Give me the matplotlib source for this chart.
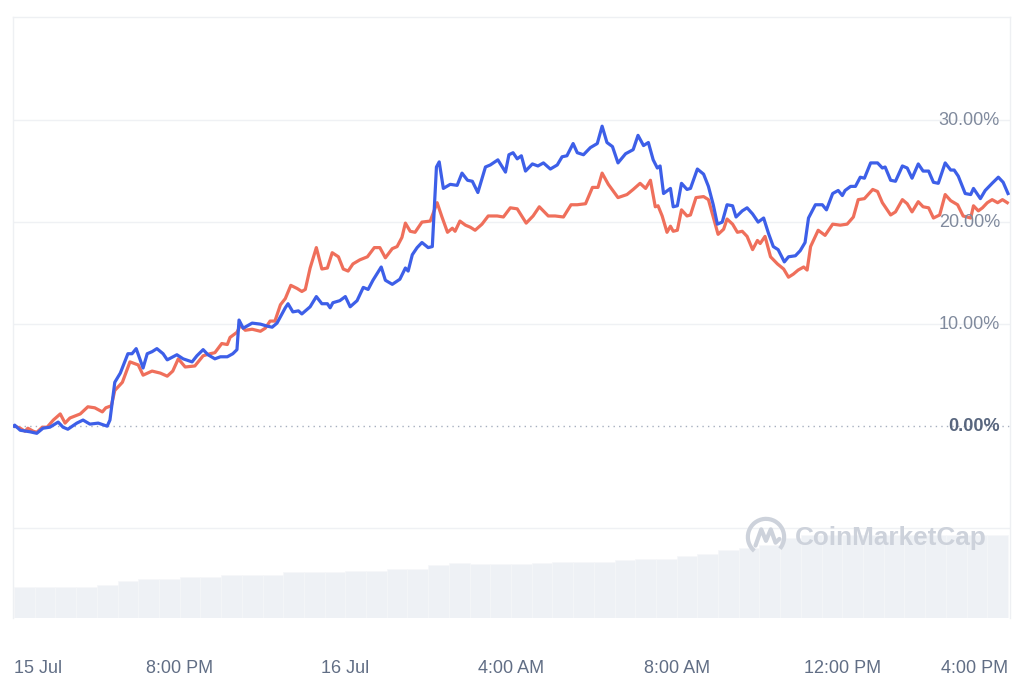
import numpy as np
import matplotlib
matplotlib.use('Agg')
import matplotlib.pyplot as plt
from matplotlib.patches import Arc
from matplotlib.transforms import blended_transform_factory

# minutes after 15 Jul 4:00 PM, % change
blue_min = [0, 1, 9, 23, 33, 42, 52, 64, 71, 78, 91, 100, 110, 122, 135, 139, 146, 154, 165, 171, 177,
            187, 193, 200, 207, 216, 222, 236, 245, 258, 265, 274, 281, 291, 299, 309, 317, 323, 326,
            332, 345, 357, 367, 374, 381, 393, 397, 404, 412, 417, 429, 438, 446, 454, 458, 462, 472,
            480, 487, 497, 506, 513, 520, 532, 538, 548, 559, 567, 571, 577, 584, 591, 600, 606, 612,
            616, 622, 632, 642, 649, 657, 664, 672, 683, 690, 701, 712, 717, 723, 729, 735, 741, 751,
            759, 767, 777, 787, 794, 801, 810, 816, 825, 835, 845, 852, 859, 867, 875, 886, 897, 904,
            912, 919, 926, 932, 936, 941, 951, 955, 961, 967, 975, 980, 990, 999, 1006, 1013, 1019,
            1026, 1033, 1041, 1046, 1055, 1062, 1070, 1078, 1086, 1093, 1100, 1107, 1116, 1122, 1132,
            1139, 1146, 1151, 1161, 1171, 1177, 1186, 1194, 1200, 1204, 1212, 1219, 1226, 1232, 1241,
            1251, 1258, 1262, 1270, 1277, 1287, 1294, 1301, 1310, 1317, 1325, 1332, 1339, 1349, 1357,
            1362, 1368, 1378, 1386, 1390, 1400, 1407, 1417, 1426, 1433, 1440]
blue_pct = [0.0, 0.1, -0.4, -0.55, -0.7, -0.2, -0.1, 0.4, -0.1, -0.3, 0.3, 0.6, 0.2, 0.3, 0.0, 0.6, 4.3,
            5.2, 7.1, 7.1, 7.6, 5.7, 7.1, 7.3, 7.6, 7.1, 6.5, 7.0, 6.6, 6.3, 6.9, 7.5, 7.0, 6.6, 6.8,
            6.8, 7.1, 7.5, 10.4, 9.6, 10.1, 10.0, 9.8, 9.7, 10.1, 11.6, 12.0, 11.2, 11.3, 11.0, 11.7,
            12.7, 12.0, 12.0, 11.6, 12.1, 12.3, 12.7, 11.7, 12.3, 13.6, 13.4, 14.3, 15.6, 14.3, 13.9,
            14.4, 15.5, 15.2, 16.8, 17.5, 18.0, 17.5, 17.6, 25.4, 25.9, 23.3, 23.7, 23.6, 24.8, 24.1,
            24.0, 22.9, 25.4, 25.6, 26.1, 24.9, 26.6, 26.8, 26.2, 26.5, 25.0, 25.7, 25.5, 25.8, 25.2,
            25.6, 26.4, 26.5, 27.7, 26.8, 26.6, 27.3, 27.7, 29.4, 27.8, 27.4, 25.8, 26.7, 27.1, 28.5,
            27.5, 27.8, 26.1, 25.3, 25.5, 22.8, 23.3, 21.5, 21.6, 23.8, 23.2, 23.3, 25.2, 24.7, 23.5,
            21.7, 19.8, 20.0, 21.7, 21.6, 20.5, 21.1, 21.4, 20.8, 20.0, 20.4, 18.9, 17.6, 17.3, 16.1,
            16.6, 16.7, 17.2, 18.0, 20.4, 21.7, 21.7, 21.2, 22.8, 23.1, 22.6, 23.1, 23.5, 23.5, 24.4,
            24.3, 25.8, 25.8, 25.3, 25.4, 24.1, 24.0, 25.5, 25.3, 24.3, 25.7, 25.0, 25.0, 23.9, 23.8,
            25.8, 25.1, 25.1, 24.5, 22.8, 22.7, 23.3, 22.3, 23.1, 23.8, 24.4, 23.9, 22.8]

red_min = [0, 1, 9, 16, 20, 28, 33, 41, 48, 57, 67, 74, 81, 96, 107, 117, 128, 133, 141, 146, 157, 168,
           180, 187, 200, 212, 222, 230, 238, 248, 262, 274, 284, 291, 301, 309, 313, 323, 328, 335,
           345, 357, 364, 371, 378, 386, 393, 401, 410, 417, 422, 429, 438, 446, 454, 461, 470, 477,
           484, 491, 501, 512, 522, 530, 538, 548, 555, 562, 567, 574, 581, 591, 603, 613, 620, 628,
           635, 639, 646, 654, 661, 668, 678, 687, 700, 709, 719, 729, 742, 752, 761, 774, 784, 796,
           807, 816, 828, 838, 846, 852, 861, 875, 888, 897, 907, 915, 922, 929, 933, 939, 946, 951,
           955, 961, 967, 975, 980, 988, 999, 1006, 1013, 1020, 1028, 1033, 1041, 1048, 1055, 1062,
           1070, 1077, 1081, 1088, 1096, 1106, 1115, 1122, 1129, 1136, 1144, 1149, 1154, 1165, 1175,
           1186, 1197, 1207, 1216, 1223, 1232, 1244, 1251, 1258, 1270, 1277, 1287, 1294, 1301, 1310,
           1317, 1325, 1332, 1341, 1349, 1357, 1367, 1375, 1386, 1390, 1397, 1403, 1410, 1417, 1425,
           1432, 1439]
red_pct = [0.0, 0.0, -0.2, -0.5, -0.2, -0.5, -0.6, -0.1, -0.1, 0.6, 1.2, 0.3, 0.8, 1.2, 1.9, 1.8, 1.4,
           1.8, 2.0, 3.5, 4.3, 6.3, 6.0, 5.0, 5.4, 5.2, 4.9, 5.4, 6.6, 5.8, 5.9, 6.9, 7.1, 7.2, 8.1,
           8.0, 8.7, 9.2, 9.9, 9.4, 9.5, 9.3, 9.6, 10.3, 10.3, 11.9, 12.5, 13.8, 13.5, 13.2, 13.4,
           15.5, 17.5, 15.4, 15.5, 17.0, 16.6, 15.4, 15.2, 15.9, 16.3, 16.6, 17.5, 17.5, 16.5, 17.4,
           17.6, 18.5, 19.9, 19.1, 19.0, 20.0, 20.1, 21.9, 20.5, 19.0, 19.4, 19.1, 20.1, 19.7, 19.5,
           19.2, 19.8, 20.6, 20.6, 20.5, 21.4, 21.3, 19.9, 20.6, 21.5, 20.6, 20.6, 20.5, 21.7, 21.7,
           21.8, 23.4, 23.4, 24.8, 23.7, 22.4, 22.7, 23.2, 23.8, 23.3, 24.1, 21.5, 21.6, 20.6, 19.0,
           19.6, 19.1, 19.2, 21.2, 20.6, 20.7, 22.4, 22.5, 22.2, 20.5, 18.8, 19.3, 20.3, 19.8, 19.0,
           19.1, 18.6, 17.3, 18.2, 17.9, 18.6, 16.6, 15.9, 15.4, 14.6, 14.9, 15.3, 15.6, 15.3, 17.6,
           19.2, 18.7, 19.8, 19.7, 19.8, 20.5, 22.2, 22.3, 23.2, 23.0, 21.9, 20.7, 21.0, 22.2, 21.8,
           21.0, 22.0, 21.5, 21.4, 20.4, 20.7, 22.7, 22.1, 21.7, 20.6, 20.4, 21.6, 21.1, 21.4, 21.9,
           22.2, 21.9, 22.2, 21.9]

# volume, one bar per 30 min (relative units)
volume = [31, 31, 31, 31, 33, 37, 39, 39.5, 41, 41.5, 43, 43, 43.5, 46, 46, 46.5, 47, 47.5, 49, 49,
          53, 55, 54, 54, 54, 55.5, 56, 56, 56.5, 58.5, 59, 59, 62, 64.5, 68, 70, 73, 80,
          83, 83, 83, 83, 83, 83, 83, 83, 83, 83]

x_ticks = [0, 240, 480, 720, 960, 1200, 1440]
x_labels = ['15 Jul', '8:00 PM', '16 Jul', '4:00 AM', '8:00 AM', '12:00 PM', '4:00 PM']
y_ticks = [0, 10, 20, 30]
y_labels = ['0.00%', '10.00%', '20.00%', '30.00%']

plt.rcParams['font.family'] = ['Liberation Sans', 'DejaVu Sans']

fig = plt.figure(figsize=(10.24, 6.83), dpi=100)
rect = [13 / 1024, 1 - 618 / 683, 997 / 1024, 601 / 683]
vax = fig.add_axes(rect)
ax = fig.add_axes(rect)
ax.patch.set_visible(False)

# volume bars at the bottom
vol_t = np.arange(len(volume)) * 30 + 15
vax.bar(vol_t, volume, width=30, color='#eef1f5', edgecolor='#f6f7f9', linewidth=0.4)
vax.set_ylim(0, max(volume) * 601 / 83)
vax.set_xlim(-1.45, 1442.9)
vax.axis('off')

# grid
for g in [-10, 10, 20, 30]:
    ax.axhline(g, color='#eff1f4', lw=1, zorder=0)
ax.axhline(0, color='#a6afbf', lw=1, ls=(0, (1, 3)), zorder=1)

ax.plot(red_min, red_pct, color='#ef6f5b', lw=2.3, zorder=3, solid_joinstyle='round')
ax.plot(blue_min, blue_pct, color='#3d5fe8', lw=2.3, zorder=4, solid_joinstyle='round')

ax.set_xlim(-1.45, 1442.9)
ax.set_ylim(-18.8, 40.1)

for s in ['top', 'left', 'right']:
    ax.spines[s].set_color('#eef0f3')
    ax.spines[s].set_linewidth(1)
ax.spines['bottom'].set_visible(False)

ax.set_yticks([])
tr = blended_transform_factory(ax.transAxes, ax.transData)
for v, lab in zip(y_ticks, y_labels):
    bold = v == 0
    ax.text(0.99, v, lab, transform=tr, ha='right', va='center', fontsize=13,
            color='#58667e' if bold else '#808a9d', fontweight='bold' if bold else 'normal',
            zorder=5)

ax.set_xticks(x_ticks)
ax.set_xticklabels(x_labels, fontsize=13, color='#616e85')
ax.tick_params(axis='x', length=0, pad=30)
labs = ax.get_xticklabels()
labs[0].set_ha('left')
labs[-1].set_ha('right')

# watermark
fig.text(795 / 1024, 1 - 538 / 683, 'CoinMarketCap', fontsize=18.8, color='#cdd2db',
         ha='left', va='center', fontweight='bold')
lax = fig.add_axes([745 / 1024, 1 - 558 / 683, 42 / 1024, 42 / 683])
lax.set_xlim(-1.1, 1.1)
lax.set_ylim(-1.1, 1.1)
lax.set_aspect('equal')
lax.axis('off')
lax.add_patch(Arc((0, 0), 1.9, 1.9, theta1=-40, theta2=230, color='#cdd2db', lw=3))
lax.plot([-0.55, -0.25, 0.0, 0.25, 0.5, 0.7], [-0.45, 0.4, -0.2, 0.4, -0.3, -0.1],
         color='#cdd2db', lw=3, solid_capstyle='round')

fig.savefig('out.png', dpi=100)
